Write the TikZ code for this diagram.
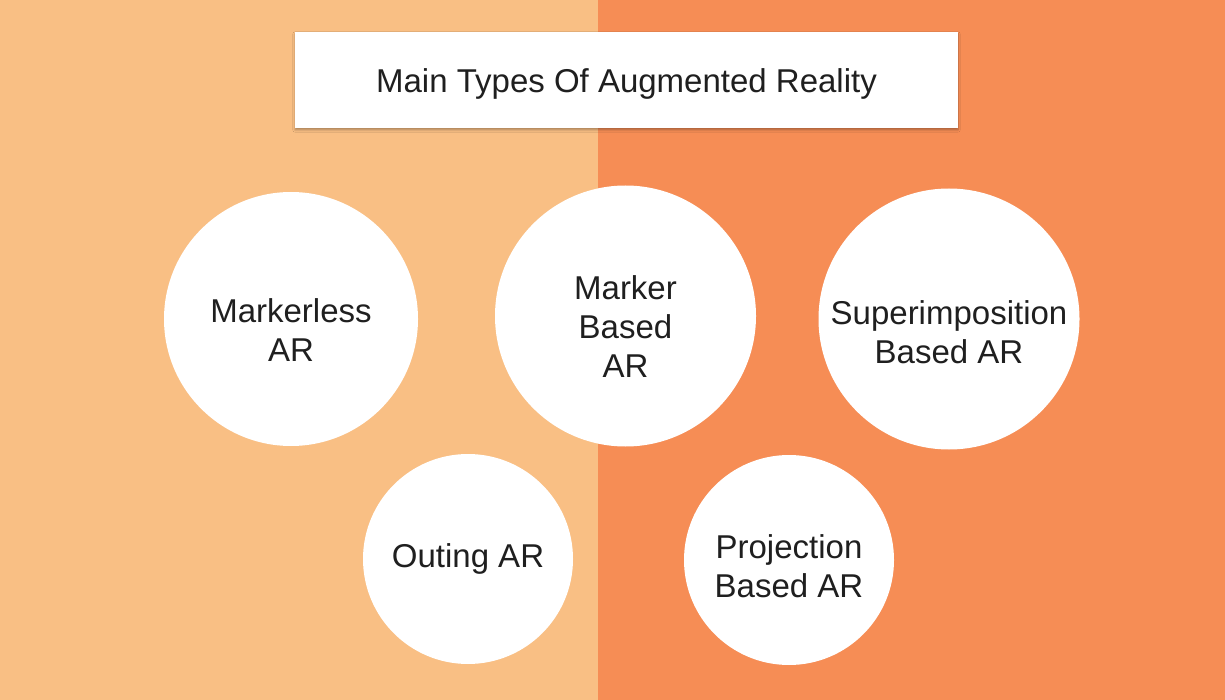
\documentclass[tikz,border=0pt]{standalone}
\usepackage{fontspec}
\setmainfont{Liberation Sans}
\usetikzlibrary{shadows.blur}
\definecolor{bgleft}{HTML}{F9BF84}
\definecolor{bgright}{HTML}{F68D55}
\definecolor{txt}{HTML}{1F1F1F}
\tikzset{
  bubble/.style={circle, fill=white, inner sep=0pt},
  bubbletext/.style={align=center, text=txt, inner sep=0pt,
    font=\fontsize{33}{39}\selectfont},
  titlebox/.style={rectangle, fill=white, inner sep=0pt,
    blur shadow={shadow xshift=0pt, shadow yshift=-2pt, shadow blur steps=6, shadow opacity=30}},
  titletext/.style={text=txt, inner sep=0pt, font=\fontsize{33}{38}\selectfont}
}
\begin{document}
\begin{tikzpicture}[x=1pt,y=-1pt]
\useasboundingbox (0,0) rectangle (1225,700);
\fill[bgleft] (0,0) rectangle (598,700);
\fill[bgright] (598,0) rectangle (1225,700);
\node[titlebox, minimum width=663pt, minimum height=96pt] (title) at (626.5,80) {};
\node[titletext] (titlet) at ([yshift=-4pt]title.center) {Main Types Of Augmented Reality};
\node[bubble, minimum size=254pt] (markerless) at (291,319) {};
\node[bubbletext] (markerlesst) at ([yshift=-11pt]markerless.center) {Markerless\\AR};
\node[bubble, minimum size=261pt] (marker) at (625.5,316) {};
\node[bubbletext] (markert) at ([yshift=-11pt]marker.center) {Marker\\Based\\AR};
\node[bubble, minimum size=261pt] (super) at (949,319) {};
\node[bubbletext] (supert) at ([yshift=-13pt]super.center) {Superimposition\\Based AR};
\node[bubble, minimum size=210pt] (outing) at (468,559) {};
\node[bubbletext] (outingt) at ([yshift=0pt]outing.center) {Outing AR};
\node[bubble, minimum size=210pt] (projection) at (789,560) {};
\node[bubbletext] (projectiont) at ([yshift=-6pt]projection.center) {Projection\\Based AR};
\end{tikzpicture}
\end{document}
